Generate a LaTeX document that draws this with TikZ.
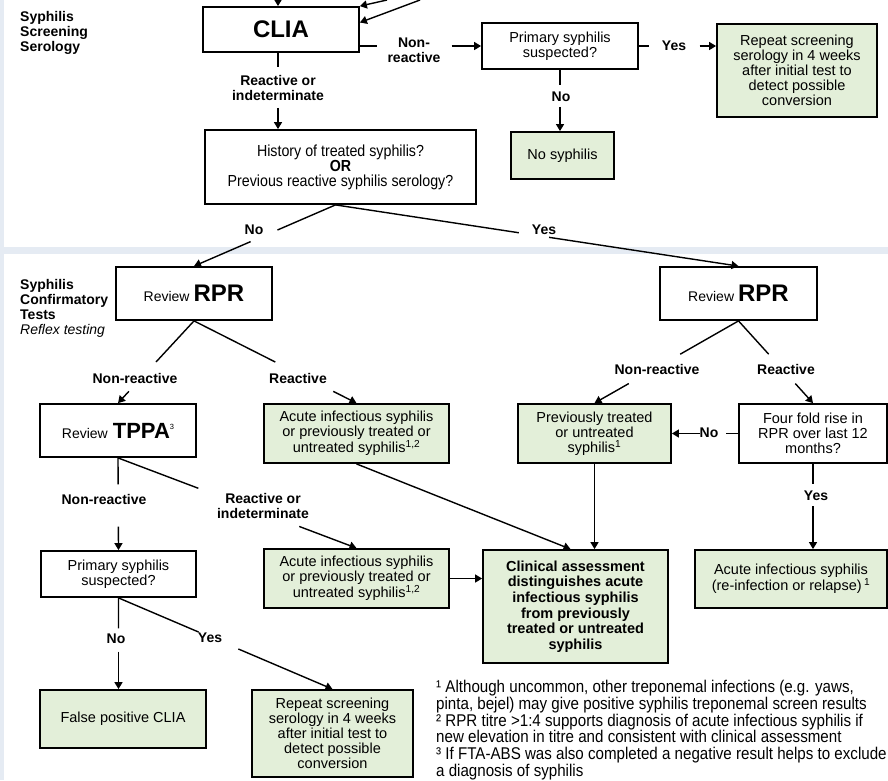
\documentclass[tikz,border=0pt]{standalone}
\usepackage{fontspec}
\setmainfont{Liberation Sans}
\newfontfamily\fnfont[FakeStretch=0.89]{Liberation Sans}
\usetikzlibrary{arrows.meta,calc}
\definecolor{boxgreen}{HTML}{E3EFD9}
\definecolor{bandblue}{HTML}{E5EBF3}
\tikzset{
  box/.style={draw=black,line width=1.8pt,fill=white,align=center,inner sep=1pt,
    font=\fontsize{14.5}{15}\selectfont},
  gbox/.style={box,fill=boxgreen},
  lbl/.style={font=\fontsize{14}{15}\selectfont\bfseries,align=center,inner sep=0pt},
  conn/.style={line width=1.4pt,draw=black},
  arr/.style={conn,-{Triangle[length=7pt,width=8pt]}},
  side/.style={font=\fontsize{14}{15}\selectfont\bfseries,align=left,anchor=north west,inner sep=0pt},
}
\begin{document}
\begin{tikzpicture}[x=1pt,y=-1pt]
\useasboundingbox (0,0) rectangle (888,780);
% background frame
\fill[bandblue] (0,0) rectangle (4,780);
\fill[bandblue] (0,247) rectangle (888,254);

% side labels
\node[side] (scr) at (20,11) {Syphilis\\Screening\\Serology};
\node[side] (conf) at (20,279) {Syphilis\\Confirmatory\\Tests\\{\mdseries\itshape Reflex testing}};

% boxes
\node[box,minimum width=156pt,minimum height=45pt] (clia) at (281,29.5) {\fontsize{24}{24}\selectfont\bfseries CLIA};
\node[box,minimum width=156pt,minimum height=46pt] (prim) at (560,46) {Primary syphilis\\suspected?};
\node[gbox,minimum width=160pt,minimum height=93pt] (rep) at (797,70.5) {Repeat screening\\serology in 4 weeks\\after initial test to\\detect possible\\conversion};
\node[box,minimum width=271pt,minimum height=74pt,font=\fnfont\fontsize{16}{15}\selectfont] (hist) at (340.5,167) {History of treated syphilis?\\\textbf{OR}\\Previous reactive syphilis serology?};
\node[gbox,minimum width=103pt,minimum height=47pt] (nos) at (562.5,155.5) {No syphilis};
\node[box,minimum width=156pt,minimum height=53pt] (rpr1) at (194,293.5) {{\fontsize{14}{14}\selectfont Review}\hspace{4pt}{\fontsize{24}{24}\selectfont\bfseries RPR}};
\node[box,minimum width=157pt,minimum height=53pt] (rpr2) at (738.5,293.5) {{\fontsize{14}{14}\selectfont Review}\hspace{4pt}{\fontsize{24}{24}\selectfont\bfseries RPR}};
\node[box,minimum width=156pt,minimum height=53pt] (tppa) at (118,430.5) {{\fontsize{14}{14}\selectfont Review}\hspace{5pt}{\fontsize{22}{22}\selectfont\bfseries TPPA}\raisebox{9pt}{\fontsize{7.5}{7.5}\selectfont 3}};
\node[gbox,minimum width=185pt,minimum height=59pt] (g1) at (356.5,433.5) {Acute infectious syphilis\\or previously treated or\\untreated syphilis\textsuperscript{1,2}};
\node[gbox,minimum width=153pt,minimum height=59pt] (prev) at (594.5,433.5) {Previously treated\\or untreated\\syphilis\textsuperscript{1}};
\node[box,minimum width=148pt,minimum height=59pt] (four) at (813,433.5) {Four fold rise in\\RPR over last 12\\months?};
\node[box,minimum width=155pt,minimum height=46pt] (prim2) at (118.5,574) {Primary syphilis\\suspected?};
\node[gbox,minimum width=185pt,minimum height=59pt] (g2) at (356.5,578.5) {Acute infectious syphilis\\or previously treated or\\untreated syphilis\textsuperscript{1,2}};
\node[gbox,minimum width=185pt,minimum height=113pt,font=\fontsize{14.5}{15.6}\selectfont\bfseries] (clin) at (575.5,606.5) {Clinical assessment\\distinguishes acute\\infectious syphilis\\from previously\\treated or untreated\\syphilis};
\node[gbox,minimum width=192pt,minimum height=58pt] (acute2) at (791,579) {Acute infectious syphilis\\(re-infection or relapse)\,\textsuperscript{1}};
\node[gbox,minimum width=166pt,minimum height=58pt] (fp) at (123,719) {False positive CLIA};
\node[gbox,minimum width=161pt,minimum height=87pt] (rep2) at (332.5,733.5) {Repeat screening\\serology in 4 weeks\\after initial test to\\detect possible\\conversion};

% labels
\node[lbl] (l1) at (414,50.5) {Non-\\reactive};
\node[lbl] (l2) at (674,46) {Yes};
\node[lbl] (l3) at (561,97) {No};
\node[lbl] (l4) at (278,88) {Reactive or\\indeterminate};
\node[lbl] (l5) at (254,230) {No};
\node[lbl] (l6) at (544,230) {Yes};
\node[lbl] (l7) at (135,378) {Non-reactive};
\node[lbl] (l8) at (298,378) {Reactive};
\node[lbl] (l9) at (657,369) {Non-reactive};
\node[lbl] (l10) at (786,369) {Reactive};
\node[lbl] (l11) at (709,433) {No};
\node[lbl] (l12) at (816,496) {Yes};
\node[lbl] (l13) at (104,499) {Non-reactive};
\node[lbl] (l14) at (263,506) {Reactive or\\indeterminate};
\node[lbl] (l15) at (116,639) {No};
\node[lbl] (l16) at (210,638) {Yes};

% incoming arrows at top
\coordinate (inA) at (278,0);
\coordinate (inB) at (387,0);
\coordinate (inC) at (420,0);
\draw[arr] (inA) -- (inA |- clia.north);
\draw[arr] (inB) -- (clia.north east);
\draw[arr] (inC) -- ($(clia.north east)!0.35!(clia.south east)$);

% CLIA -> history
\coordinate (ca) at ([xshift=-3pt]clia.south);
\draw[conn] (ca) -- ($(ca)!0.19!(ca |- hist.north)$);
\draw[arr] ($(ca)!0.72!(ca |- hist.north)$) -- (ca |- hist.north);
% CLIA -> primary
\draw[conn] (clia.east |- prim.west) -- ($(clia.east |- prim.west)!0.138!(prim.west)$);
\draw[arr] ($(clia.east |- prim.west)!0.756!(prim.west)$) -- (prim.west);
% primary -> repeat
\draw[conn] (prim.east) -- ($(prim.east)!0.127!(rep.west |- prim.east)$);
\draw[arr] ($(prim.east)!0.785!(rep.west |- prim.east)$) -- (rep.west |- prim.east);
% primary -> no syphilis
\draw[conn] (prim.south) -- ($(prim.south)!0.254!(prim.south |- nos.north)$);
\draw[arr] ($(prim.south)!0.603!(prim.south |- nos.north)$) -- (prim.south |- nos.north);
% history -> RPR boxes
\coordinate (hs) at ([xshift=-5pt]hist.south);
\draw[conn] (hs) -- ($(hs)!0.41!(rpr1.north)$);
\draw[arr] ($(hs)!0.60!(rpr1.north)$) -- (rpr1.north);
\draw[conn] (hs) -- ($(hs)!0.455!(rpr2.north)$);
\draw[arr] ($(hs)!0.53!(rpr2.north)$) -- (rpr2.north);
% RPR1 branches
\draw[conn] (rpr1.south) -- ($(rpr1.south)!0.5!(tppa.north)$);
\draw[arr] ($(rpr1.south)!0.857!(tppa.north)$) -- (tppa.north);
\draw[conn] (rpr1.south) -- ($(rpr1.south)!0.5!(g1.north)$);
\draw[arr] ($(rpr1.south)!0.857!(g1.north)$) -- (g1.north);
% RPR2 branches
\draw[conn] (rpr2.south) -- ($(rpr2.south)!0.405!(prev.north)$);
\draw[arr] ($(rpr2.south)!0.762!(prev.north)$) -- (prev.north);
\draw[conn] (rpr2.south) -- ($(rpr2.south)!0.405!(four.north)$);
\draw[arr] ($(rpr2.south)!0.762!(four.north)$) -- (four.north);
% four fold -> previously treated / acute
\draw[conn] (four.west) -- ($(four.west)!0.176!(prev.east)$);
\draw[arr] ($(four.west)!0.574!(prev.east)$) -- (prev.east);
\draw[conn] (four.south) -- ($(four.south)!0.23!(four.south |- acute2.north)$);
\draw[arr] ($(four.south)!0.494!(four.south |- acute2.north)$) -- (four.south |- acute2.north);
% into clinical assessment
\draw[arr] (prev.south) -- (prev.south |- clin.north);
\draw[arr] (g1.south) -- ([xshift=-5pt]clin.north);
\draw[arr] (g2.east) -- (clin.west |- g2.east);
% TPPA branches
\draw[conn] (tppa.south) -- ($(tppa.south)!0.287!(prim2.north)$);
\draw[arr] ($(tppa.south)!0.745!(prim2.north)$) -- (prim2.north);
\draw[conn] (tppa.south) -- ($(tppa.south)!0.337!(g2.north)$);
\draw[arr] ($(tppa.south)!0.76!(g2.north)$) -- (g2.north);
% primary (bottom) branches
\draw[conn] (prim2.south) -- ($(prim2.south)!0.333!(prim2.south |- fp.north)$);
\draw[arr] ($(prim2.south)!0.59!(prim2.south |- fp.north)$) -- (prim2.south |- fp.north);
\draw[conn] (prim2.south) -- ($(prim2.south)!0.374!(rep2.north)$);
\draw[arr] ($(prim2.south)!0.56!(rep2.north)$) -- (rep2.north);

% footnotes
\node[anchor=north west,align=left,inner sep=0pt,font=\fnfont\fontsize{17}{16.8}\selectfont] (notes) at (436,680)
{¹ Although uncommon, other treponemal infections (e.g. yaws,\\
pinta, bejel) may give positive syphilis treponemal screen results\\
² RPR titre >1:4 supports diagnosis of acute infectious syphilis if\\
new elevation in titre and consistent with clinical assessment\\
³ If FTA-ABS was also completed a negative result helps to exclude\\
a diagnosis of syphilis};
\end{tikzpicture}
\end{document}
